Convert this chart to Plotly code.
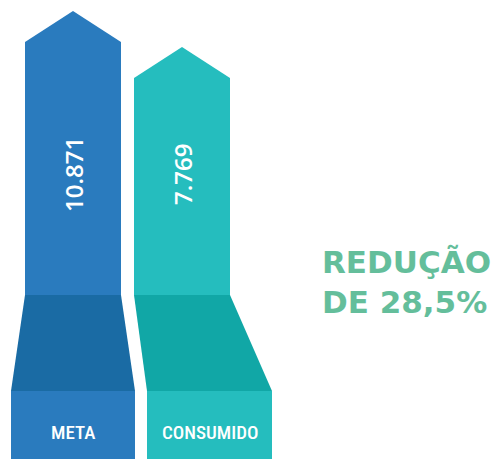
import plotly.graph_objects as go

# Consumption against target
labels = ["META", "CONSUMIDO"]
values = [10871, 7769]
value_text = ["10.871", "7.769"]
reduction_text = "REDUÇÃO<br>DE 28,5%"

# Styling
light = ["#2a7bbe", "#25bdbe"]
dark = ["#1a6ba4", "#11a7a6"]
green = "#64be9b"

# Horizontal layout of each arrow (x axis runs in pixel units)
col_left = [25, 134]
col_right = [121, 230]
base_left = [11, 147]
base_right = [135, 272]

# Vertical layout (y axis runs in value units; the lower part is a decorative plinth)
Y_TOP = 11819
Y_BOTTOM = -27733
HEAD = 2671          # height of the arrow head
BODY_END = -13601    # where the straight shaft stops
TAPER_END = -21873   # where the widening section stops
LABEL_Y = -3260      # centre of the rotated value labels
NAME_Y = -25450      # centre of the category labels

fig = go.Figure()

for i, v in enumerate(values):
    l, r = col_left[i], col_right[i]
    bl, br = base_left[i], base_right[i]
    mid = (l + r) / 2
    # shaft + arrow head
    fig.add_trace(go.Scatter(
        x=[l, l, mid, r, r, l],
        y=[BODY_END, v - HEAD, v, v - HEAD, BODY_END, BODY_END],
        fill="toself", fillcolor=light[i], mode="lines",
        line=dict(width=0), hoverinfo="skip", showlegend=False))
    # widening section
    fig.add_trace(go.Scatter(
        x=[l, r, br, bl, l],
        y=[BODY_END, BODY_END, TAPER_END, TAPER_END, BODY_END],
        fill="toself", fillcolor=dark[i], mode="lines",
        line=dict(width=0), hoverinfo="skip", showlegend=False))
    # plinth
    fig.add_trace(go.Scatter(
        x=[bl, br, br, bl, bl],
        y=[TAPER_END, TAPER_END, Y_BOTTOM, Y_BOTTOM, TAPER_END],
        fill="toself", fillcolor=light[i], mode="lines",
        line=dict(width=0), hoverinfo="skip", showlegend=False))

    fig.add_annotation(x=mid + 1, y=LABEL_Y, text=value_text[i], textangle=-90,
                       showarrow=False,
                       font=dict(family="Open Sans", size=24, color="white", weight=600))
    fig.add_annotation(x=(bl + br) / 2, y=NAME_Y, text=labels[i],
                       showarrow=False,
                       font=dict(family="Roboto Condensed, Liberation Sans Narrow, Roboto, sans-serif",
                                 size=19, color="white", weight=500))

fig.add_annotation(x=320, y=-12500, text=reduction_text, xanchor="left",
                   align="left", showarrow=False,
                   font=dict(family="DejaVu Sans", size=31, color=green, weight="bold"))

fig.update_xaxes(range=[0, 501], visible=False, fixedrange=True)
fig.update_yaxes(range=[Y_BOTTOM, Y_TOP], visible=False, fixedrange=True)
fig.update_layout(width=501, height=459, margin=dict(l=0, r=0, t=0, b=0),
                  plot_bgcolor="white", paper_bgcolor="white")

fig.write_html("out.html")
